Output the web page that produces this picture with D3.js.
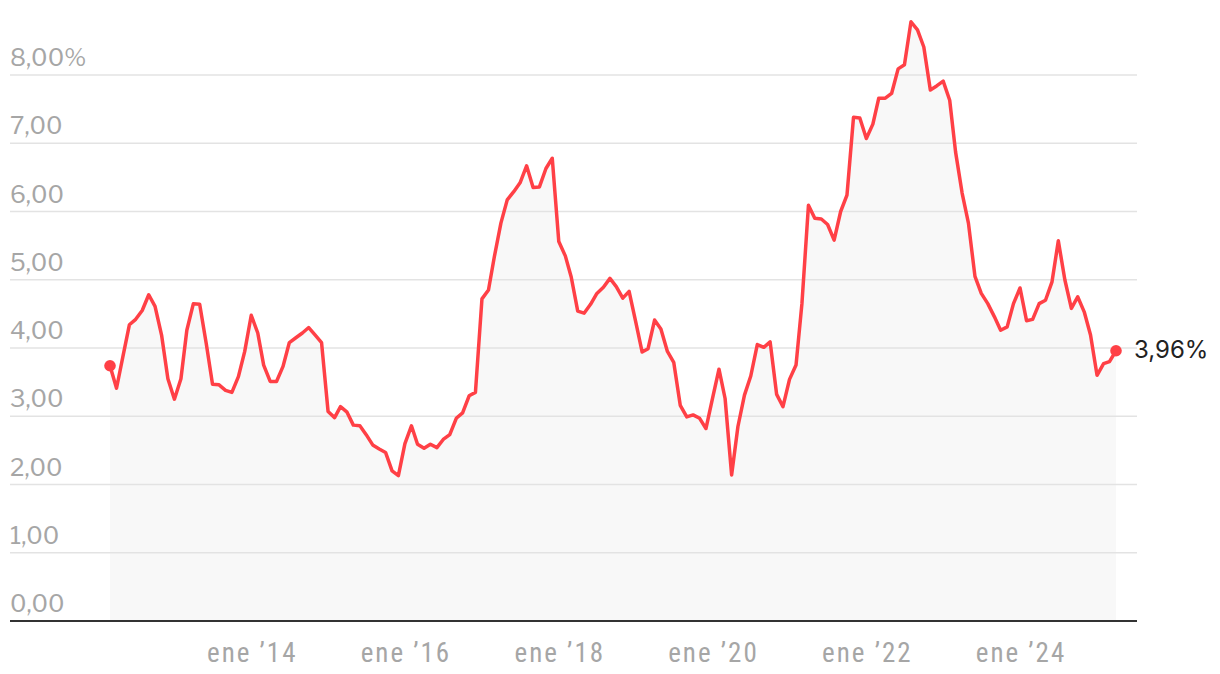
<!DOCTYPE html>
<html><head><meta charset="utf-8">
<script src="https://cdnjs.cloudflare.com/ajax/libs/d3/7.8.5/d3.min.js"></script>
<style>
html,body{margin:0;padding:0;background:#fff;}
svg{display:block;}
.ytick{font-family:"Libre Franklin","Inter","Noto Sans",sans-serif;font-size:24px;fill:#a6a6a6;}
.xtick{font-family:"Liberation Sans Narrow","Roboto Condensed","Liberation Sans",sans-serif;font-size:27px;letter-spacing:2px;fill:#a6a6a6;}
.endlab{font-family:"Inter","Noto Sans",sans-serif;font-size:24px;fill:#222;}
</style></head>
<body>
<svg id="c" width="1220" height="674"></svg>
<script>
// Monthly values, Mar 2012 – Apr 2025 (%)
const startMonth = [2012, 2]; // year, month index (0 = January)
const values = [
3.74,3.41,3.87,4.34,4.42,4.55,4.78,4.61,4.19,3.55,
3.25,3.55,4.26,4.65,4.64,4.07,3.47,3.46,3.38,3.35,
3.58,3.95,4.48,4.22,3.75,3.51,3.51,3.73,4.08,4.15,
4.22,4.30,4.19,4.08,3.07,2.98,3.14,3.06,2.87,2.86,
2.73,2.58,2.52,2.47,2.20,2.13,2.60,2.86,2.59,2.53,
2.59,2.54,2.66,2.73,2.97,3.05,3.30,3.35,4.72,4.85,
5.34,5.83,6.17,6.29,6.42,6.67,6.35,6.36,6.63,6.78,
5.56,5.35,5.04,4.54,4.51,4.64,4.80,4.89,5.02,4.90,
4.73,4.83,4.39,3.94,3.99,4.41,4.28,3.95,3.79,3.16,
2.99,3.02,2.97,2.82,3.26,3.69,3.26,2.14,2.85,3.31,
3.59,4.05,4.01,4.09,3.32,3.14,3.54,3.75,4.65,6.09,
5.90,5.89,5.81,5.58,6.00,6.24,7.38,7.37,7.07,7.28,
7.66,7.66,7.73,8.09,8.15,8.78,8.66,8.41,7.78,7.84,
7.91,7.63,6.87,6.27,5.83,5.05,4.80,4.65,4.46,4.26,
4.31,4.65,4.88,4.40,4.42,4.65,4.70,4.97,5.57,5.00,
4.58,4.75,4.53,4.19,3.60,3.77,3.80,3.96];
const yTicks = [0,1,2,3,4,5,6,7,8];
const yTickLabels = ["0,00","1,00","2,00","3,00","4,00","5,00","6,00","7,00","8,00%"];
const xTickYears = [2014,2016,2018,2020,2022,2024];
const xTickLabels = ["ene \u201914","ene \u201916","ene \u201918","ene \u201920","ene \u201922","ene \u201924"];
const endLabel = "3,96%";

const data = values.map((v,i)=>({date:new Date(startMonth[0], startMonth[1]+i, 1), value:v}));

const svg = d3.select("#c");
const x = d3.scaleTime().domain([data[0].date, data[data.length-1].date]).range([110,1116]);
const y = d3.scaleLinear().domain([0,8]).range([621,75]);
const gridX0 = 10, gridX1 = 1137;

// area
svg.append("path").datum(data)
  .attr("d", d3.area().x(d=>x(d.date)).y0(y(0)).y1(d=>y(d.value)))
  .attr("fill","#f8f8f8");

// grid
const g = svg.append("g");
g.selectAll("line").data(yTicks.filter(t=>t>0)).join("line")
  .attr("x1",gridX0).attr("x2",gridX1)
  .attr("y1",d=>y(d)).attr("y2",d=>y(d))
  .attr("stroke","#e3e3e3").attr("stroke-width",1.5);
svg.selectAll("text.ytick").data(yTicks).join("text")
  .attr("class","ytick").attr("x",gridX0).attr("y",d=>y(d)-9)
  .text((d,i)=>yTickLabels[i]);

// baseline
svg.append("line").attr("x1",gridX0).attr("x2",gridX1)
  .attr("y1",y(0)).attr("y2",y(0)).attr("stroke","#333").attr("stroke-width",2);

// x labels
svg.selectAll("text.xtick").data(xTickYears).join("text")
  .attr("class","xtick").attr("text-anchor","middle")
  .attr("x",d=>x(new Date(d,0,1))+1).attr("y",662)
  .text((d,i)=>xTickLabels[i]);

// line
svg.append("path").datum(data)
  .attr("d", d3.line().x(d=>x(d.date)).y(d=>y(d.value)))
  .attr("fill","none").attr("stroke","#ff4046").attr("stroke-width",3.5)
  .attr("stroke-linejoin","round");

// end dots
const ends = [data[0], data[data.length-1]];
svg.selectAll("circle.end").data(ends).join("circle")
  .attr("class","end").attr("cx",d=>x(d.date)).attr("cy",d=>y(d.value))
  .attr("r",5.8).attr("fill","#ff4046");
const last = data[data.length-1];
svg.append("text").attr("class","endlab")
  .attr("x",x(last.date)+18).attr("y",y(last.value)+7).text(endLabel);
</script>
</body></html>
